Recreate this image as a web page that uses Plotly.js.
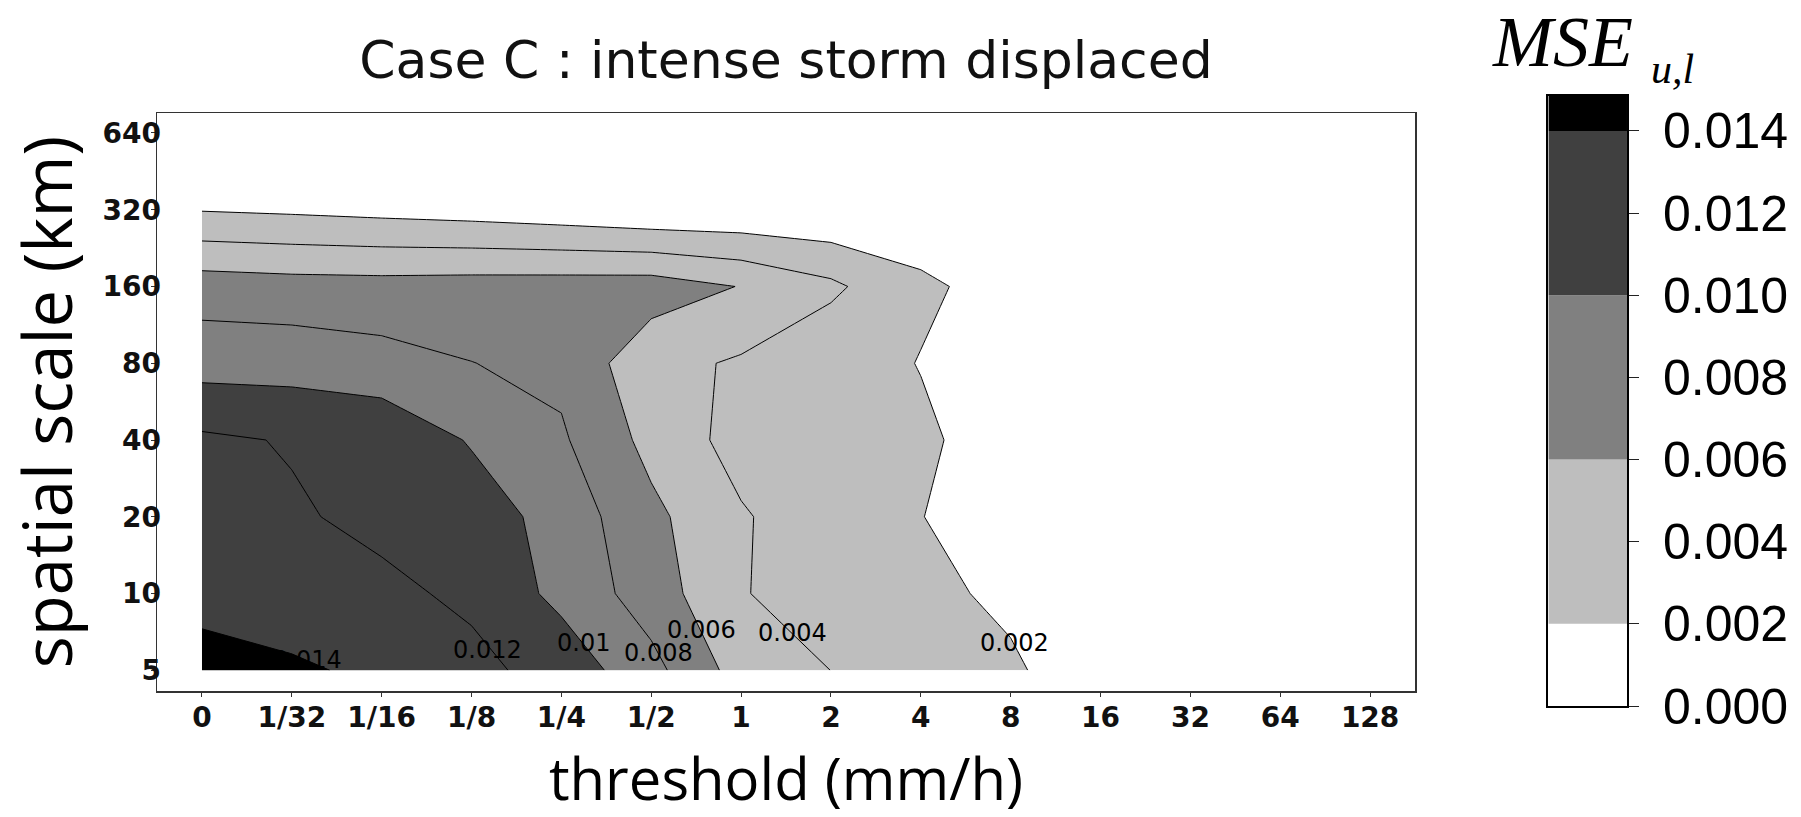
<!DOCTYPE html>
<html>
<head>
<meta charset="utf-8">
<script src="https://cdn.plot.ly/plotly-3.0.1.min.js"></script>
<style>
html,body{margin:0;padding:0;background:#ffffff;}
#chart{width:1801px;height:817px;}
</style>
</head>
<body>
<div id="chart"></div>
<script>
// ---- data ----
const thresholds = ['0','1/32','1/16','1/8','1/4','1/2','1','2','4','8','16','32','64','128'];
const spatialScales = ['5','10','20','40','80','160','320','640'];

// MSE_{u,l} per spatial scale (row) and threshold (column)
const mse5   = [0.0148, 0.0143, 0.01359, 0.0125, 0.01127, 0.00862, 0.00517, 0.00399, 0.0031, 0.0023, 0.00072, 0.0004, 0.0002, 0.0001];
const mse10  = [0.01332, 0.0129, 0.01242, 0.01164, 0.00945, 0.00703, 0.00412, 0.0030, 0.0025, 0.00159, 0.0007, 0.0004, 0.0002, 0.0001];
const mse20  = [0.0129, 0.01222, 0.01154, 0.01107, 0.0092, 0.00648, 0.0042, 0.00277, 0.00203, 0.00128, 0.0006, 0.0003, 0.0002, 0.0001];
const mse40  = [0.01235, 0.01186, 0.01157, 0.00983, 0.00826, 0.0054, 0.00325, 0.0028, 0.00215, 0.00157, 0.0005, 0.0003, 0.0002, 0.0001];
const mse80  = [0.0092, 0.00917, 0.0087, 0.00803, 0.00752, 0.00465, 0.00375, 0.0024, 0.00197, 0.0012, 0.0006, 0.0003, 0.0002, 0.0001];
const mse160 = [0.00706, 0.00682, 0.00675, 0.00686, 0.00692, 0.00698, 0.00593, 0.00443, 0.00214, 0.0017, 0.0007, 0.0004, 0.0002, 0.0001];
const mse320 = [0.0019, 0.00169, 0.00142, 0.00115, 0.00077, 0.0003, 0.0003, 0.0002, 0.0015, 0.0005, 0.0003, 0.0002, 0.0001, 0.0001];
const mse640 = [0.0003, 0.0003, 0.0002, 0.0002, 0.0002, 0.0001, 0.0001, 0.0001, 0.0002, 0.0001, 0.0001, 0.0001, 0.0001, 0.0001];

// contour levels
const levelStart = 0.002, levelEnd = 0.014, levelSize = 0.002;
const labelLevels = [0.014, 0.012, 0.010, 0.008, 0.006, 0.004, 0.002];

// colour key bands
const bandStarts = [0.000, 0.002, 0.006, 0.010, 0.014];
const bandEnds   = [0.002, 0.006, 0.010, 0.014, 0.01485];
const bandColors = ['#ffffff', '#bebebe', '#808080', '#404040', '#000000'];
const keyTicks   = [0.000, 0.002, 0.004, 0.006, 0.008, 0.010, 0.012, 0.014];

// style: how far (in rows) above the 5 km row each contour label sits
const labelLift = [0.13, 0.27, 0.35, 0.23, 0.53, 0.49, 0.35];

// ---- build ----
const zGrid = [mse5, mse10, mse20, mse40, mse80, mse160, mse320, mse640];

const nRegions = Math.round((levelEnd - levelStart) / levelSize) + 2;
const colorscale = [];
for (let k = 0; k < nRegions; k++) {
  const v = levelStart - levelSize / 2 + k * levelSize;
  let col = bandColors[bandColors.length - 1];
  for (let b = 0; b < bandStarts.length; b++) {
    if (v >= bandStarts[b] && v < bandEnds[b]) { col = bandColors[b]; break; }
  }
  colorscale.push([k / (nRegions - 1), col]);
}

const contourTrace = {
  type: 'contour',
  x: thresholds,
  y: spatialScales,
  z: zGrid,
  autocontour: false,
  contours: {start: levelStart, end: levelEnd, size: levelSize, coloring: 'fill', showlabels: false},
  line: {color: '#000000', width: 1, smoothing: 0},
  colorscale: colorscale,
  showscale: false,
  hoverinfo: 'skip'
};

const keyTrace = {
  type: 'bar',
  x: bandStarts.map(() => 0),
  y: bandStarts.map((s, i) => bandEnds[i] - s),
  base: bandStarts,
  width: 1,
  marker: {color: bandColors, line: {width: 0}},
  xaxis: 'x2',
  yaxis: 'y2',
  hoverinfo: 'skip',
  showlegend: false
};

// contour labels placed where each level crosses the profile just above the 5 km row
function crossingX(level, t) {
  const p = mse5.map((v, i) => v + t * (mse10[i] - v));
  for (let c = 0; c < p.length - 1; c++) {
    if (p[c] >= level && p[c + 1] < level) return c + (p[c] - level) / (p[c] - p[c + 1]);
  }
  return null;
}
const labelAnnotations = labelLevels.map((lv, i) => ({
  xref: 'x', yref: 'y',
  x: crossingX(lv, labelLift[i]),
  y: labelLift[i],
  text: String(parseFloat(lv.toFixed(3))),
  showarrow: false,
  xanchor: 'center', yanchor: 'middle',
  borderpad: 0,
  font: {family: 'DejaVu Sans', size: 24, color: '#000000'}
})).filter(a => a.x !== null);

const tickFont = {family: 'DejaVu Sans', size: 28, weight: 'bold', color: '#111111'};

const layout = {
  width: 1801,
  height: 817,
  paper_bgcolor: '#ffffff',
  plot_bgcolor: '#ffffff',
  showlegend: false,
  margin: {l: 157, r: 174, t: 96, b: 111, pad: 0},
  title: {
    text: 'Case C : intense storm displaced',
    font: {family: 'DejaVu Sans', size: 52, color: '#111111'},
    x: 0.4279, xref: 'paper', xanchor: 'center',
    y: 0.9266, yref: 'container', yanchor: 'middle'
  },
  xaxis: {
    domain: [0, 0.8558],
    type: 'category',
    range: [-0.5, 13.5],
    showline: true, mirror: true, linecolor: '#333333', linewidth: 1.5,
    ticks: 'outside', ticklen: 4, tickcolor: '#333333',
    ticklabelstandoff: -3,
    tickfont: tickFont,
    showgrid: false, zeroline: false,
    title: {text: 'threshold (mm/h)', font: {family: 'Open Sans', size: 58, color: '#000000'}, standoff: 30}
  },
  yaxis: {
    domain: [0.02459, 0.97213],
    type: 'category',
    range: [-0.27, 7.26],
    showline: true, mirror: true, linecolor: '#333333', linewidth: 1.5,
    ticks: 'outside', ticklen: 5, tickcolor: '#333333',
    ticklabelstandoff: -16,
    tickfont: tickFont,
    showgrid: false, zeroline: false,
    title: {text: 'spatial scale (km)', font: {family: 'Open Sans', size: 67, color: '#000000'}, standoff: 22}
  },
  xaxis2: {
    domain: [0.9465, 1],
    anchor: 'y2',
    range: [-0.5, 0.5],
    showticklabels: false, ticks: '',
    showline: true, mirror: true, linecolor: '#000000', linewidth: 2,
    showgrid: false, zeroline: false
  },
  yaxis2: {
    domain: [0, 1],
    anchor: 'x2',
    side: 'right',
    range: [0, 0.01485],
    tickvals: keyTicks,
    tickformat: '.3f',
    ticks: 'outside', ticklen: 10, tickcolor: '#222222',
    ticklabelstandoff: 14,
    tickfont: {family: 'Liberation Sans', size: 50, color: '#000000'},
    showline: true, mirror: true, linecolor: '#000000', linewidth: 2,
    showgrid: false, zeroline: false
  },
  annotations: [
    {
      text: '<i>MSE</i>', showarrow: false,
      xref: 'paper', yref: 'paper', x: 0.9068, y: 1.089,
      xanchor: 'left', yanchor: 'middle',
      font: {family: 'Liberation Serif', size: 72, color: '#000000'}
    },
    {
      text: '<i>u,l</i>', showarrow: false,
      xref: 'paper', yref: 'paper', x: 1.015, y: 1.0443,
      xanchor: 'left', yanchor: 'middle',
      font: {family: 'Liberation Serif', size: 42, color: '#000000'}
    }
  ].concat(labelAnnotations)
};

Plotly.newPlot('chart', [contourTrace, keyTrace], layout, {staticPlot: true, displayModeBar: false});
</script>
</body>
</html>
